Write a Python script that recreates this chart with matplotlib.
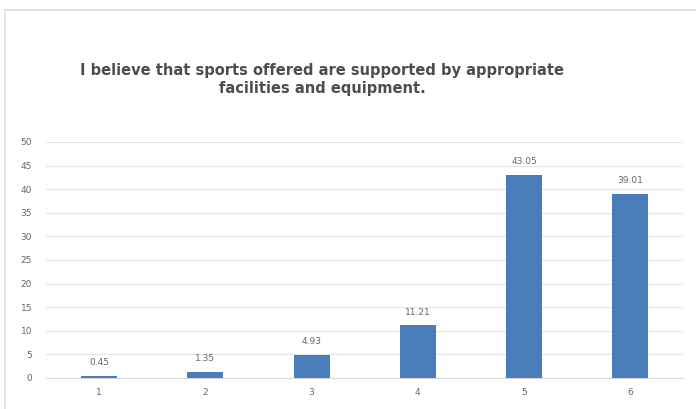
import matplotlib.pyplot as plt
from matplotlib.lines import Line2D

categories = ["1", "2", "3", "4", "5", "6"]
values = [0.45, 1.35, 4.93, 11.21, 43.05, 39.01]
value_labels = ["0.45", "1.35", "4.93", "11.21", "43.05", "39.01"]
y_ticks = [0, 5, 10, 15, 20, 25, 30, 35, 40, 45, 50]
title = "I believe that sports offered are supported by appropriate\nfacilities and equipment."

fig = plt.figure(figsize=(6.96, 4.09), dpi=100)
# light frame: top and left edges only
fig.lines.append(Line2D([5 / 696, 1.0], [1 - 10 / 409, 1 - 10 / 409], transform=fig.transFigure,
                        color="#d9d9d9", linewidth=1.2))
fig.lines.append(Line2D([5 / 696, 5 / 696], [0.0, 1 - 10 / 409], transform=fig.transFigure,
                        color="#e3e3e3", linewidth=1.2))
ax = fig.add_axes([0.066, 0.076, 0.916, 0.577])
x = range(len(categories))
ax.bar(x, values, width=0.34, color="#4a7ebb", zorder=3)
for i, (v, lab) in enumerate(zip(values, value_labels)):
    ax.text(i, v + 1.8, lab, ha="center", va="bottom", fontsize=6.5, color="#666666")
ax.set_xlim(-0.5, len(categories) - 0.5)
ax.set_ylim(0, 50)
ax.set_yticks(y_ticks)
ax.set_xticks(list(x))
ax.set_xticklabels(categories)
ax.tick_params(axis="both", length=0, labelsize=6.5, labelcolor="#666666")
ax.tick_params(axis="y", pad=10)
ax.tick_params(axis="x", pad=7)
ax.grid(axis="y", color="#e6e6e6", linewidth=0.8, zorder=0)
for s in ["top", "right", "left"]:
    ax.spines[s].set_visible(False)
ax.spines["bottom"].set_color("#d9d9d9")
fig.text(0.463, 0.805, title, ha="center", va="center", fontsize=10.5, fontweight="bold",
         color="#4d4d4d", linespacing=1.25)
fig.savefig("out.png", dpi=100, facecolor="white")
